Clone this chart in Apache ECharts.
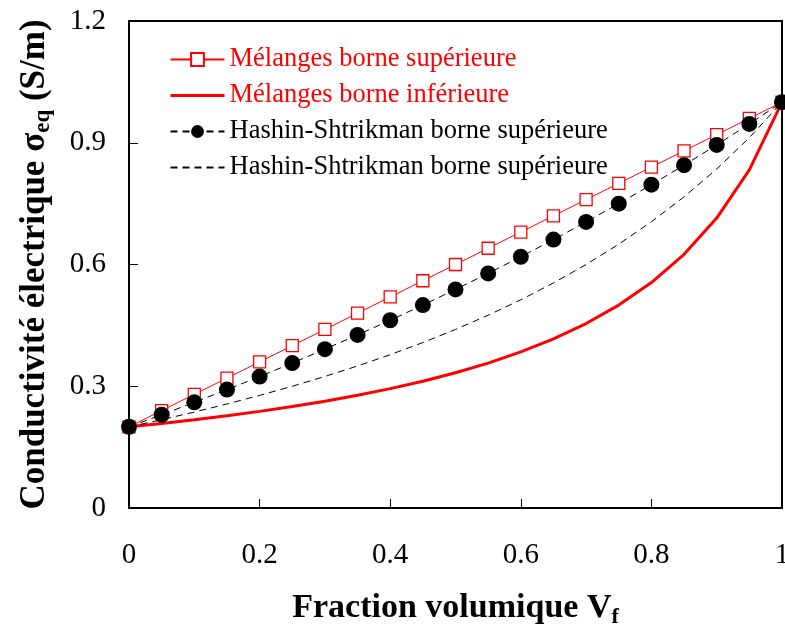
<!DOCTYPE html>
<html><head><meta charset="utf-8">
<script src="https://cdn.jsdelivr.net/npm/echarts@6/dist/echarts.min.js"></script>
<style>html,body{margin:0;padding:0;background:#fff}#c{width:785px;height:625px}</style>
</head><body><div id="c"></div>
<script>
const xVals = [0,0.05,0.1,0.15,0.2,0.25,0.3,0.35,0.4,0.45,0.5,0.55,0.6,0.65,0.7,0.75,0.8,0.85,0.9,0.95,1];
const melSup = [0.2,0.24,0.28,0.32,0.36,0.40,0.44,0.48,0.52,0.56,0.60,0.64,0.68,0.72,0.76,0.80,0.84,0.88,0.92,0.96,1.0];
const melInf = [0.2,0.2083,0.2174,0.2273,0.2381,0.25,0.2632,0.2778,0.2941,0.3125,0.3333,0.3571,0.3846,0.4167,0.4545,0.5,0.5556,0.625,0.7143,0.8333,1.0];
const hsSup = [0.2,0.2297,0.2603,0.2917,0.3239,0.3571,0.3913,0.4265,0.4627,0.5,0.5385,0.5781,0.619,0.6613,0.7049,0.75,0.7966,0.8448,0.8947,0.9464,1.0];
const hsInf = [0.2,0.2176,0.2364,0.2563,0.2774,0.3,0.3241,0.35,0.3778,0.4077,0.44,0.475,0.513,0.5545,0.6,0.65,0.7053,0.7667,0.8353,0.9125,1.0];
const names = ['Mélanges borne supérieure','Mélanges borne inférieure','Hashin-Shtrikman borne supérieure','Hashin-Shtrikman borne supérieure '];
const pairs = a => xVals.map((x,i)=>[x,a[i]]);
const font = '"Liberation Serif","Times New Roman",serif';
const chart = echarts.init(document.getElementById('c'));
chart.setOption({
  animation:false,
  grid:{left:129,right:3,top:21,bottom:117,show:true,borderColor:'#000',borderWidth:2,backgroundColor:'transparent',outerBoundsMode:'none',containLabel:false},
  legend:{
    left:164, top:41, orient:'vertical', itemWidth:54, itemHeight:16, itemGap:9,
    textStyle:{fontFamily:font,fontSize:26.5,color:'#000',padding:[0,0,0,0]},
    data:[
      {name:names[0],textStyle:{color:'#ff0000'}},
      {name:names[1],textStyle:{color:'#ff0000'},itemStyle:{opacity:0},lineStyle:{width:3,color:'#ff0000'}},
      {name:names[2]},
      {name:names[3],itemStyle:{opacity:0}}
    ]
  },
  xAxis:{
    type:'value',min:0,max:1,interval:0.2,
    name:'{b|Fraction volumique V}{s|f}',nameLocation:'middle',nameGap:80,
    nameTextStyle:{rich:{b:{fontFamily:font,fontSize:34,fontWeight:'bold',color:'#000'},s:{fontFamily:font,fontSize:22,fontWeight:'bold',color:'#000',padding:[18,0,0,0]}}},
    axisLine:{lineStyle:{color:'#000',width:2}},
    axisTick:{inside:true,length:9,lineStyle:{color:'#000',width:1}},
    axisLabel:{fontFamily:font,fontSize:29,color:'#000',margin:33,formatter:v=>String(+v.toFixed(1))},
    splitLine:{show:false}
  },
  yAxis:{
    type:'value',min:0,max:1.2,interval:0.3,
    name:'{b|Conductivité électrique σ}{s|eq}{b| (S/m)}',nameLocation:'middle',nameGap:74,nameRotate:90,
    nameTextStyle:{rich:{b:{fontFamily:font,fontSize:35,fontWeight:'bold',color:'#000'},s:{fontFamily:font,fontSize:23,fontWeight:'bold',color:'#000',padding:[18,0,0,0]}}},
    axisLine:{lineStyle:{color:'#000',width:2}},
    axisTick:{inside:true,length:9,lineStyle:{color:'#000',width:1}},
    axisLabel:{fontFamily:font,fontSize:29,color:'#000',margin:23,formatter:v=>String(+v.toFixed(1))},
    splitLine:{show:false}
  },
  series:[
    {name:names[1],type:'line',data:pairs(melInf),showSymbol:false,symbol:'none',lineStyle:{color:'#ff0000',width:3},itemStyle:{color:'#ff0000'},z:2},
    {name:names[3],type:'line',data:pairs(hsInf),showSymbol:false,symbol:'none',lineStyle:{color:'#000',width:1,type:[7,5]},itemStyle:{color:'#000'},z:2},
    {name:names[0],type:'line',data:pairs(melSup),symbol:'rect',symbolSize:12,lineStyle:{color:'#ff0000',width:1},itemStyle:{color:'#fff',borderColor:'#ff0000',borderWidth:1.3},z:3},
    {name:names[2],type:'line',data:pairs(hsSup),symbol:'circle',symbolSize:16,lineStyle:{color:'#000',width:1,type:[7,5]},itemStyle:{color:'#000'},z:4}
  ]
});
</script></body></html>
